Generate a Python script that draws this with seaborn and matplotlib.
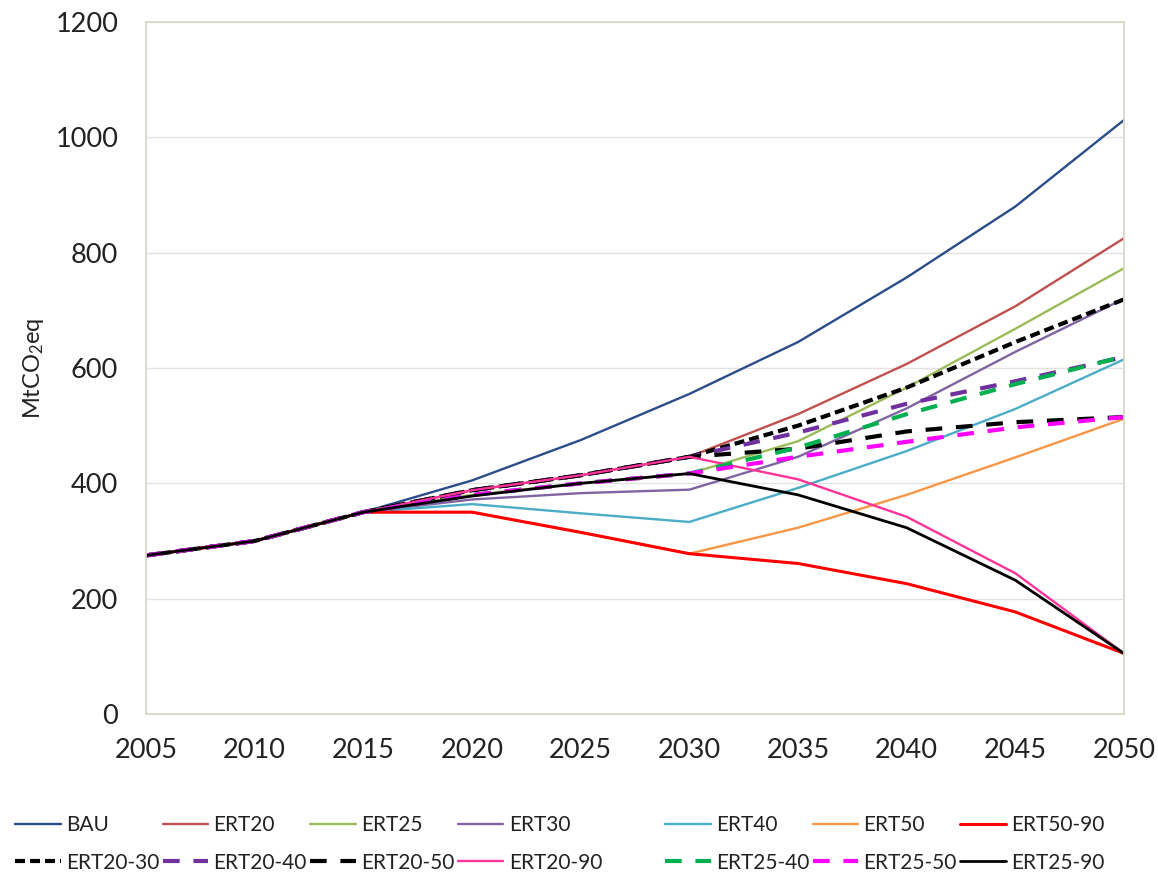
import matplotlib
matplotlib.use("Agg")
import matplotlib.pyplot as plt
import seaborn as sns
import numpy as np
import pandas as pd

# Emissionsscenarier 2005-2050 (MtCO2eq)
years = [2005, 2010, 2015, 2020, 2025, 2030, 2035, 2040, 2045, 2050]

bau = [275, 300, 350, 405, 475, 555, 645, 757, 880, 1030]
ert20 = [275, 300, 350, 388, 414, 446, 520, 607, 707, 825]
ert25 = [275, 300, 350, 380, 400, 417, 473, 566, 668, 773]
ert30 = [275, 300, 350, 372, 383, 389, 446, 530, 628, 720]
ert40 = [275, 300, 350, 364, 348, 333, 392, 456, 529, 615]
ert50 = [275, 300, 350, 350, 315, 278, 323, 380, 445, 512]
ert50_90 = [275, 300, 350, 350, 315, 278, 261, 226, 177, 105]
ert20_30 = [275, 300, 350, 388, 414, 446, 500, 566, 645, 719]
ert20_40 = [275, 300, 350, 388, 414, 446, 488, 538, 577, 619]
ert20_50 = [275, 300, 350, 388, 414, 446, 460, 490, 506, 515]
ert20_90 = [275, 300, 350, 388, 414, 446, 407, 342, 244, 105]
ert25_40 = [275, 300, 350, 380, 400, 417, 462, 520, 572, 620]
ert25_50 = [275, 300, 350, 380, 400, 417, 446, 472, 497, 515]
ert25_90 = [275, 300, 350, 378, 400, 417, 380, 323, 232, 105]

row1 = ["BAU", "ERT20", "ERT25", "ERT30", "ERT40", "ERT50", "ERT50-90"]
row2 = ["ERT20-30", "ERT20-40", "ERT20-50", "ERT20-90", "ERT25-40", "ERT25-50", "ERT25-90"]

values = {
    "BAU": bau, "ERT20": ert20, "ERT25": ert25, "ERT30": ert30, "ERT40": ert40,
    "ERT50": ert50, "ERT50-90": ert50_90, "ERT20-30": ert20_30, "ERT20-40": ert20_40,
    "ERT20-50": ert20_50, "ERT20-90": ert20_90, "ERT25-40": ert25_40,
    "ERT25-50": ert25_50, "ERT25-90": ert25_90,
}

short = (0, (2.4, 1.2))
long_ = (0, (4.0, 3.3))
styles = {
    "BAU": dict(color="#2A4D8A", lw=1.7, ls="-"),
    "ERT20": dict(color="#C0504D", lw=1.7, ls="-"),
    "ERT25": dict(color="#9BBB59", lw=1.7, ls="-"),
    "ERT30": dict(color="#8064A2", lw=1.7, ls="-"),
    "ERT40": dict(color="#4BACC6", lw=1.7, ls="-"),
    "ERT50": dict(color="#F79646", lw=1.7, ls="-"),
    "ERT50-90": dict(color="#FF0000", lw=2.2, ls="-"),
    "ERT20-30": dict(color="#000000", lw=3.0, ls=short),
    "ERT20-40": dict(color="#7030A0", lw=3.0, ls=long_),
    "ERT20-50": dict(color="#000000", lw=3.0, ls=long_),
    "ERT20-90": dict(color="#FF3399", lw=1.7, ls="-"),
    "ERT25-40": dict(color="#00B050", lw=3.0, ls=long_),
    "ERT25-50": dict(color="#FF00FF", lw=3.0, ls=long_),
    "ERT25-90": dict(color="#000000", lw=2.0, ls="-"),
}

sns.set_style("white")
plt.rcParams["font.family"] = ["Lato", "DejaVu Sans"]
plt.rcParams["mathtext.default"] = "regular"

fig = plt.figure(figsize=(11.58, 8.89), dpi=100)
ax = fig.add_axes([146 / 1158, 1 - 714 / 889, 978 / 1158, 692 / 889])

handles = {}
for name in row1 + row2:
    st = styles[name]
    df = pd.DataFrame({"year": years, "value": values[name]})
    sns.lineplot(data=df, x="year", y="value", ax=ax, color=st["color"],
                 linewidth=st["lw"], linestyle=st["ls"], label=name, legend=False)
    handles[name] = ax.get_lines()[-1]

ax.set_xlim(2005, 2050)
ax.set_ylim(0, 1200)
ax.set_xticks(np.arange(2005, 2051, 5))
ax.set_yticks(np.arange(0, 1201, 200))
ax.yaxis.grid(True, color="#E2E2E2", lw=1.0)
ax.set_axisbelow(True)
for sp in ax.spines.values():
    sp.set_color("#D9D9C6")
    sp.set_linewidth(1.3)
ax.tick_params(axis="both", length=0, labelsize=19.5, labelcolor="#222222")
ax.tick_params(axis="y", pad=20)
ax.tick_params(axis="x", pad=17)
ax.set_xlabel("")
ax.set_ylabel("")
fig.text(33 / 1158, 1 - 368 / 889, "MtCO$_2$eq", rotation=90, fontsize=17,
         color="#222222", ha="center", va="center")

leg_kw = dict(frameon=False, fontsize=15, handlelength=2.2, handletextpad=0.25,
              columnspacing=0.15, labelspacing=0.85, borderpad=0, borderaxespad=0,
              loc="upper left")

# linke del (4 kolonner), kolonnevis rækkefølge
names_a = []
for i in range(4):
    names_a += [row1[i], row2[i]]
leg_a = fig.legend([handles[n] for n in names_a], names_a, ncol=4,
                   bbox_to_anchor=(15 / 1158, 1 - 815 / 889), **leg_kw)
names_b = []
for i in range(4, 7):
    names_b += [row1[i], row2[i]]
leg_b = fig.legend([handles[n] for n in names_b], names_b, ncol=3,
                   bbox_to_anchor=(665 / 1158, 1 - 815 / 889), **leg_kw)
for leg in (leg_a, leg_b):
    for t in leg.get_texts():
        t.set_color("#222222")

fig.savefig("out.png", dpi=100)
